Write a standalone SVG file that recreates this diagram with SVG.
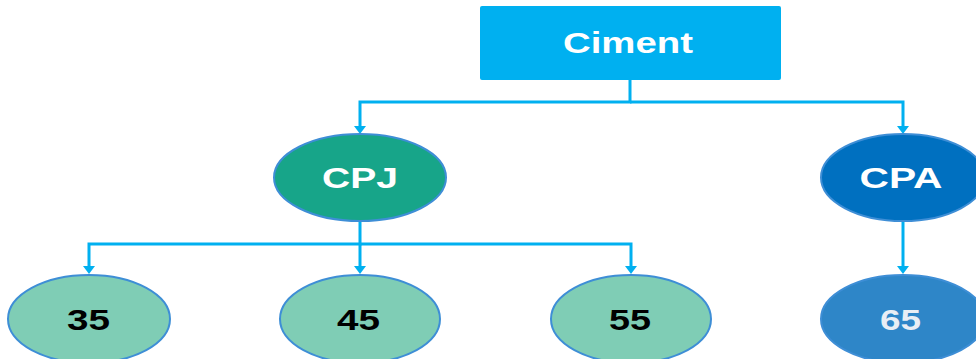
<svg xmlns="http://www.w3.org/2000/svg" width="976" height="359" viewBox="0 0 976 359">
<defs>
<style>
.c{fill:none;stroke:#00B0F0;stroke-width:3}
.t{font-family:"Liberation Sans",Arial,sans-serif;font-weight:bold;font-size:29px;text-anchor:middle;dominant-baseline:central}
.e{stroke:#3E8ED6;stroke-width:2}
</style>
</defs>
<g id="connectors">
<path class="c" d="M630,80 V102 H360 V126"/>
<path class="c" d="M630,102 H903 V126"/>
<path class="c" d="M360,221 V244 H89 V266"/>
<path class="c" d="M360,244 V266"/>
<path class="c" d="M360,244 H631 V266"/>
<path class="c" d="M903,221 V266"/>
<path d="M354,126 L366,126 L360,134 Z M897,126 L909,126 L903,134 Z M83,266 L95,266 L89,274 Z M354,266 L366,266 L360,274 Z M625,266 L637,266 L631,274 Z M897,266 L909,266 L903,274 Z" fill="#00B0F0"/>
</g>
<g id="ciment">
<rect x="480" y="6" width="301" height="74" rx="2" fill="#00B0F0"/>
<text class="t" x="628" y="43" fill="#FFFFFF" textLength="130" lengthAdjust="spacingAndGlyphs">Ciment</text>
</g>
<g id="cpj">
<ellipse class="e" cx="360" cy="177.5" rx="86" ry="43.5" fill="#17A589"/>
<text class="t" x="360" y="178" fill="#FFFFFF" textLength="76" lengthAdjust="spacingAndGlyphs">CPJ</text>
</g>
<g id="cpa">
<ellipse class="e" cx="903" cy="177.5" rx="82" ry="43.5" fill="#0070C0"/>
<text class="t" x="901" y="178" fill="#FFFFFF" textLength="83" lengthAdjust="spacingAndGlyphs">CPA</text>
</g>
<g id="n35">
<ellipse class="e" cx="89" cy="319" rx="81" ry="44" fill="#7FCDB5"/>
<text class="t" x="88.5" y="320" fill="#000000" textLength="43" lengthAdjust="spacingAndGlyphs">35</text>
</g>
<g id="n45">
<ellipse class="e" cx="360" cy="319" rx="80" ry="44" fill="#7FCDB5"/>
<text class="t" x="358.5" y="320" fill="#000000" textLength="43" lengthAdjust="spacingAndGlyphs">45</text>
</g>
<g id="n55">
<ellipse class="e" cx="631" cy="319" rx="80" ry="44" fill="#7FCDB5"/>
<text class="t" x="630" y="320" fill="#000000" textLength="42" lengthAdjust="spacingAndGlyphs">55</text>
</g>
<g id="n65">
<ellipse class="e" cx="903" cy="319" rx="82" ry="44" fill="#2E86C8"/>
<text class="t" x="900.5" y="320" fill="#E8EEF5" textLength="41" lengthAdjust="spacingAndGlyphs">65</text>
</g>
</svg>
